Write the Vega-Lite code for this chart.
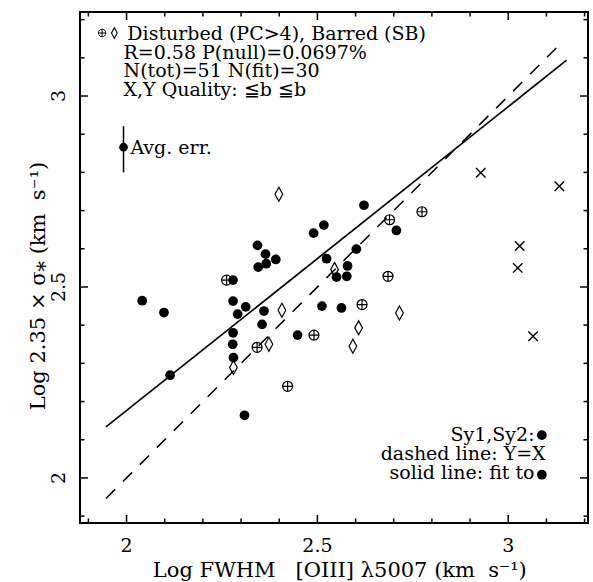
{
  "$schema": "https://vega.github.io/schema/vega-lite/v6.json",
  "width": 508,
  "height": 511,
  "autosize": {"type": "none"},
  "padding": {"left": 80, "top": 12, "right": 5, "bottom": 59},
  "background": "white",
  "config": {
    "view": {"stroke": "black", "strokeWidth": 2},
    "font": "DejaVu Serif",
    "text": {"font": "DejaVu Serif", "fontSize": 19, "color": "black"}
  },
  "datasets": {
    "sy": [
      {"x": 2.041, "y": 2.464}, {"x": 2.098, "y": 2.433}, {"x": 2.114, "y": 2.269}, {"x": 2.279, "y": 2.518},
      {"x": 2.279, "y": 2.463}, {"x": 2.312, "y": 2.448}, {"x": 2.291, "y": 2.429}, {"x": 2.360, "y": 2.437},
      {"x": 2.512, "y": 2.450}, {"x": 2.563, "y": 2.445}, {"x": 2.355, "y": 2.402}, {"x": 2.279, "y": 2.380},
      {"x": 2.448, "y": 2.374}, {"x": 2.278, "y": 2.350}, {"x": 2.280, "y": 2.315}, {"x": 2.309, "y": 2.164},
      {"x": 2.343, "y": 2.609}, {"x": 2.364, "y": 2.586}, {"x": 2.391, "y": 2.572}, {"x": 2.345, "y": 2.552},
      {"x": 2.366, "y": 2.561}, {"x": 2.490, "y": 2.641}, {"x": 2.517, "y": 2.662}, {"x": 2.622, "y": 2.714},
      {"x": 2.707, "y": 2.648}, {"x": 2.602, "y": 2.599}, {"x": 2.524, "y": 2.574}, {"x": 2.579, "y": 2.555},
      {"x": 2.550, "y": 2.526}, {"x": 2.577, "y": 2.528}
    ],
    "disturbed": [
      {"x": 2.262, "y": 2.518}, {"x": 2.689, "y": 2.676}, {"x": 2.774, "y": 2.697}, {"x": 2.685, "y": 2.528},
      {"x": 2.617, "y": 2.454}, {"x": 2.491, "y": 2.374}, {"x": 2.342, "y": 2.342}, {"x": 2.422, "y": 2.240}
    ],
    "barred": [
      {"x": 2.399, "y": 2.743}, {"x": 2.545, "y": 2.546}, {"x": 2.407, "y": 2.439}, {"x": 2.715, "y": 2.432},
      {"x": 2.608, "y": 2.393}, {"x": 2.373, "y": 2.350}, {"x": 2.593, "y": 2.345}, {"x": 2.280, "y": 2.289}
    ],
    "other": [
      {"x": 2.928, "y": 2.799}, {"x": 3.134, "y": 2.764}, {"x": 3.030, "y": 2.607}, {"x": 3.025, "y": 2.550}, {"x": 3.065, "y": 2.371}
    ],
    "fit": [{"x": 1.946, "y": 2.1335}, {"x": 3.153, "y": 3.094}],
    "yx": [{"x": 1.946, "y": 1.946}, {"x": 3.145, "y": 3.145}],
    "err": [{"x": 1.992, "y": 2.866, "lo": 2.80, "hi": 2.921}],
    "notesL": [
      {"x": 2.002, "y": 3.1458, "t": "Disturbed (PC>4), Barred (SB)"},
      {"x": 1.992, "y": 3.0974, "t": "R=0.58 P(null)=0.0697%"},
      {"x": 1.992, "y": 3.0490, "t": "N(tot)=51 N(fit)=30"},
      {"x": 1.992, "y": 3.0005, "t": "X,Y Quality: ≦b ≦b"},
      {"x": 2.010, "y": 2.848, "t": "Avg. err."}
    ],
    "notesR": [
      {"x": 3.069, "y": 2.0961, "t": "Sy1,Sy2:"},
      {"x": 3.098, "y": 2.0463, "t": "dashed line: Y=X"},
      {"x": 3.069, "y": 1.9966, "t": "solid line: fit to"}
    ],
    "keyDots": [{"x": 3.088, "y": 2.112}, {"x": 3.088, "y": 2.0084}],
    "keyPlus": [{"x": 1.936, "y": 3.165}],
    "keyDiamond": [{"x": 1.968, "y": 3.165}],
    "xlab": [{"x": 2, "y": 1.8055, "t": "2"}, {"x": 2.5, "y": 1.8055, "t": "2.5"}, {"x": 3, "y": 1.8055, "t": "3"}],
    "ylab": [{"x": 1.8385, "y": 2, "t": "2"}, {"x": 1.8385, "y": 2.5, "t": "2.5"}, {"x": 1.8385, "y": 3, "t": "3"}],
    "xtitle": [{"x": 2.0689, "y": 1.74, "t": "Log FWHM\u00a0\u00a0\u00a0[OIII] λ5007 (km\u00a0\u00a0s⁻¹)"}],
    "ytitle": [{"x": 1.7861, "y": 2.1772, "t": "Log 2.35 × σ⁎ (km\u00a0\u00a0s⁻¹)"}],
    "major": [{"v": 2}, {"v": 2.5}, {"v": 3}],
    "minor": [{"v": 1.9}, {"v": 2.1}, {"v": 2.2}, {"v": 2.3}, {"v": 2.4}, {"v": 2.6}, {"v": 2.7}, {"v": 2.8}, {"v": 2.9}, {"v": 3.1}, {"v": 3.2}]
  },
  "layer": [
    {
      "data": {"name": "sy"},
      "mark": {"type": "point", "shape": "circle", "filled": true, "color": "black", "size": 95, "opacity": 1},
      "encoding": {
        "x": {"field": "x", "type": "quantitative", "scale": {"domain": [1.878, 3.209], "nice": false, "zero": false}, "axis": null},
        "y": {"field": "y", "type": "quantitative", "scale": {"domain": [1.882, 3.22], "nice": false, "zero": false}, "axis": null}
      }
    },
    {
      "data": {"name": "major"},
      "mark": {"type": "tick", "orient": "vertical", "size": 16, "thickness": 1.5, "color": "black", "opacity": 1, "clip": true},
      "encoding": {
        "x": {"field": "v", "type": "quantitative", "scale": {"domain": [1.878, 3.209], "nice": false, "zero": false}, "axis": null},
        "y": {"datum": 1.882, "type": "quantitative", "scale": {"domain": [1.882, 3.22], "nice": false, "zero": false}, "axis": null}
      }
    },
    {
      "data": {"name": "major"},
      "mark": {"type": "tick", "orient": "vertical", "size": 16, "thickness": 1.5, "color": "black", "opacity": 1, "clip": true},
      "encoding": {
        "x": {"field": "v", "type": "quantitative", "scale": {"domain": [1.878, 3.209], "nice": false, "zero": false}, "axis": null},
        "y": {"datum": 3.22, "type": "quantitative", "scale": {"domain": [1.882, 3.22], "nice": false, "zero": false}, "axis": null}
      }
    },
    {
      "data": {"name": "minor"},
      "mark": {"type": "tick", "orient": "vertical", "size": 9, "thickness": 1.5, "color": "black", "opacity": 1, "clip": true},
      "encoding": {
        "x": {"field": "v", "type": "quantitative", "scale": {"domain": [1.878, 3.209], "nice": false, "zero": false}, "axis": null},
        "y": {"datum": 1.882, "type": "quantitative", "scale": {"domain": [1.882, 3.22], "nice": false, "zero": false}, "axis": null}
      }
    },
    {
      "data": {"name": "minor"},
      "mark": {"type": "tick", "orient": "vertical", "size": 9, "thickness": 1.5, "color": "black", "opacity": 1, "clip": true},
      "encoding": {
        "x": {"field": "v", "type": "quantitative", "scale": {"domain": [1.878, 3.209], "nice": false, "zero": false}, "axis": null},
        "y": {"datum": 3.22, "type": "quantitative", "scale": {"domain": [1.882, 3.22], "nice": false, "zero": false}, "axis": null}
      }
    },
    {
      "data": {"name": "major"},
      "mark": {"type": "tick", "orient": "horizontal", "size": 16, "thickness": 1.5, "color": "black", "opacity": 1, "clip": true},
      "encoding": {
        "y": {"field": "v", "type": "quantitative", "scale": {"domain": [1.882, 3.22], "nice": false, "zero": false}, "axis": null},
        "x": {"datum": 1.878, "type": "quantitative", "scale": {"domain": [1.878, 3.209], "nice": false, "zero": false}, "axis": null}
      }
    },
    {
      "data": {"name": "major"},
      "mark": {"type": "tick", "orient": "horizontal", "size": 16, "thickness": 1.5, "color": "black", "opacity": 1, "clip": true},
      "encoding": {
        "y": {"field": "v", "type": "quantitative", "scale": {"domain": [1.882, 3.22], "nice": false, "zero": false}, "axis": null},
        "x": {"datum": 3.209, "type": "quantitative", "scale": {"domain": [1.878, 3.209], "nice": false, "zero": false}, "axis": null}
      }
    },
    {
      "data": {"name": "minor"},
      "mark": {"type": "tick", "orient": "horizontal", "size": 9, "thickness": 1.5, "color": "black", "opacity": 1, "clip": true},
      "encoding": {
        "y": {"field": "v", "type": "quantitative", "scale": {"domain": [1.882, 3.22], "nice": false, "zero": false}, "axis": null},
        "x": {"datum": 1.878, "type": "quantitative", "scale": {"domain": [1.878, 3.209], "nice": false, "zero": false}, "axis": null}
      }
    },
    {
      "data": {"name": "minor"},
      "mark": {"type": "tick", "orient": "horizontal", "size": 9, "thickness": 1.5, "color": "black", "opacity": 1, "clip": true},
      "encoding": {
        "y": {"field": "v", "type": "quantitative", "scale": {"domain": [1.882, 3.22], "nice": false, "zero": false}, "axis": null},
        "x": {"datum": 3.209, "type": "quantitative", "scale": {"domain": [1.878, 3.209], "nice": false, "zero": false}, "axis": null}
      }
    },
    {
      "data": {"name": "other"},
      "mark": {"type": "point", "shape": "M-1,-1L1,1M-1,1L1,-1", "filled": false, "color": "black", "strokeWidth": 1.4, "size": 90, "opacity": 1},
      "encoding": {
        "x": {"field": "x", "type": "quantitative", "scale": {"domain": [1.878, 3.209], "nice": false, "zero": false}, "axis": null},
        "y": {"field": "y", "type": "quantitative", "scale": {"domain": [1.882, 3.22], "nice": false, "zero": false}, "axis": null}
      }
    },
    {
      "data": {"name": "disturbed"},
      "mark": {"type": "point", "shape": "M-1,0A1,1,0,1,1,1,0A1,1,0,1,1,-1,0ZM-1,0L1,0M0,-1L0,1", "filled": false, "color": "black", "strokeWidth": 1.2, "size": 100, "opacity": 1},
      "encoding": {
        "x": {"field": "x", "type": "quantitative", "scale": {"domain": [1.878, 3.209], "nice": false, "zero": false}, "axis": null},
        "y": {"field": "y", "type": "quantitative", "scale": {"domain": [1.882, 3.22], "nice": false, "zero": false}, "axis": null}
      }
    },
    {
      "data": {"name": "barred"},
      "mark": {"type": "point", "shape": "M0,-1L0.55,0L0,1L-0.55,0Z", "filled": false, "color": "black", "strokeWidth": 1.2, "size": 196, "opacity": 1},
      "encoding": {
        "x": {"field": "x", "type": "quantitative", "scale": {"domain": [1.878, 3.209], "nice": false, "zero": false}, "axis": null},
        "y": {"field": "y", "type": "quantitative", "scale": {"domain": [1.882, 3.22], "nice": false, "zero": false}, "axis": null}
      }
    },
    {
      "data": {"name": "fit"},
      "mark": {"type": "line", "color": "black", "strokeWidth": 1.7},
      "encoding": {
        "x": {"field": "x", "type": "quantitative", "scale": {"domain": [1.878, 3.209], "nice": false, "zero": false}, "axis": null},
        "y": {"field": "y", "type": "quantitative", "scale": {"domain": [1.882, 3.22], "nice": false, "zero": false}, "axis": null}
      }
    },
    {
      "data": {"name": "yx"},
      "mark": {"type": "line", "color": "black", "strokeWidth": 1.5, "strokeDash": [13, 11]},
      "encoding": {
        "x": {"field": "x", "type": "quantitative", "scale": {"domain": [1.878, 3.209], "nice": false, "zero": false}, "axis": null},
        "y": {"field": "y", "type": "quantitative", "scale": {"domain": [1.882, 3.22], "nice": false, "zero": false}, "axis": null}
      }
    },
    {
      "data": {"name": "err"},
      "mark": {"type": "rule", "color": "black", "strokeWidth": 1.5},
      "encoding": {
        "x": {"field": "x", "type": "quantitative", "scale": {"domain": [1.878, 3.209], "nice": false, "zero": false}, "axis": null},
        "y": {"field": "lo", "type": "quantitative", "scale": {"domain": [1.882, 3.22], "nice": false, "zero": false}, "axis": null},
        "y2": {"field": "hi"}
      }
    },
    {
      "data": {"name": "err"},
      "mark": {"type": "point", "shape": "circle", "filled": true, "color": "black", "size": 75, "opacity": 1},
      "encoding": {
        "x": {"field": "x", "type": "quantitative", "scale": {"domain": [1.878, 3.209], "nice": false, "zero": false}, "axis": null},
        "y": {"field": "y", "type": "quantitative", "scale": {"domain": [1.882, 3.22], "nice": false, "zero": false}, "axis": null}
      }
    },
    {
      "data": {"name": "keyDots"},
      "mark": {"type": "point", "shape": "circle", "filled": true, "color": "black", "size": 95, "opacity": 1},
      "encoding": {
        "x": {"field": "x", "type": "quantitative", "scale": {"domain": [1.878, 3.209], "nice": false, "zero": false}, "axis": null},
        "y": {"field": "y", "type": "quantitative", "scale": {"domain": [1.882, 3.22], "nice": false, "zero": false}, "axis": null}
      }
    },
    {
      "data": {"name": "keyPlus"},
      "mark": {"type": "point", "shape": "M-1,0A1,1,0,1,1,1,0A1,1,0,1,1,-1,0ZM-1,0L1,0M0,-1L0,1", "filled": false, "color": "black", "strokeWidth": 1, "size": 55, "opacity": 1},
      "encoding": {
        "x": {"field": "x", "type": "quantitative", "scale": {"domain": [1.878, 3.209], "nice": false, "zero": false}, "axis": null},
        "y": {"field": "y", "type": "quantitative", "scale": {"domain": [1.882, 3.22], "nice": false, "zero": false}, "axis": null}
      }
    },
    {
      "data": {"name": "keyDiamond"},
      "mark": {"type": "point", "shape": "M0,-1L0.55,0L0,1L-0.55,0Z", "filled": false, "color": "black", "strokeWidth": 1.1, "size": 110, "opacity": 1},
      "encoding": {
        "x": {"field": "x", "type": "quantitative", "scale": {"domain": [1.878, 3.209], "nice": false, "zero": false}, "axis": null},
        "y": {"field": "y", "type": "quantitative", "scale": {"domain": [1.882, 3.22], "nice": false, "zero": false}, "axis": null}
      }
    },
    {
      "data": {"name": "notesL"},
      "mark": {"type": "text", "align": "left", "baseline": "alphabetic", "fontSize": 19, "font": "DejaVu Serif", "color": "black"},
      "encoding": {
        "x": {"field": "x", "type": "quantitative", "scale": {"domain": [1.878, 3.209], "nice": false, "zero": false}, "axis": null},
        "y": {"field": "y", "type": "quantitative", "scale": {"domain": [1.882, 3.22], "nice": false, "zero": false}, "axis": null},
        "text": {"field": "t"}
      }
    },
    {
      "data": {"name": "notesR"},
      "mark": {"type": "text", "align": "right", "baseline": "alphabetic", "fontSize": 19, "font": "DejaVu Serif", "color": "black"},
      "encoding": {
        "x": {"field": "x", "type": "quantitative", "scale": {"domain": [1.878, 3.209], "nice": false, "zero": false}, "axis": null},
        "y": {"field": "y", "type": "quantitative", "scale": {"domain": [1.882, 3.22], "nice": false, "zero": false}, "axis": null},
        "text": {"field": "t"}
      }
    },
    {
      "data": {"name": "xlab"},
      "mark": {"type": "text", "align": "center", "baseline": "alphabetic", "fontSize": 19, "font": "DejaVu Serif", "color": "black", "clip": false},
      "encoding": {
        "x": {"field": "x", "type": "quantitative", "scale": {"domain": [1.878, 3.209], "nice": false, "zero": false}, "axis": null},
        "y": {"field": "y", "type": "quantitative", "scale": {"domain": [1.882, 3.22], "nice": false, "zero": false}, "axis": null},
        "text": {"field": "t"}
      }
    },
    {
      "data": {"name": "ylab"},
      "mark": {"type": "text", "align": "center", "baseline": "alphabetic", "angle": 270, "fontSize": 19, "font": "DejaVu Serif", "color": "black", "clip": false},
      "encoding": {
        "x": {"field": "x", "type": "quantitative", "scale": {"domain": [1.878, 3.209], "nice": false, "zero": false}, "axis": null},
        "y": {"field": "y", "type": "quantitative", "scale": {"domain": [1.882, 3.22], "nice": false, "zero": false}, "axis": null},
        "text": {"field": "t"}
      }
    },
    {
      "data": {"name": "xtitle"},
      "mark": {"type": "text", "align": "left", "baseline": "alphabetic", "fontSize": 21, "font": "DejaVu Serif", "color": "black", "clip": false},
      "encoding": {
        "x": {"field": "x", "type": "quantitative", "scale": {"domain": [1.878, 3.209], "nice": false, "zero": false}, "axis": null},
        "y": {"field": "y", "type": "quantitative", "scale": {"domain": [1.882, 3.22], "nice": false, "zero": false}, "axis": null},
        "text": {"field": "t"}
      }
    },
    {
      "data": {"name": "ytitle"},
      "mark": {"type": "text", "align": "left", "baseline": "alphabetic", "angle": 270, "fontSize": 21, "font": "DejaVu Serif", "color": "black", "clip": false},
      "encoding": {
        "x": {"field": "x", "type": "quantitative", "scale": {"domain": [1.878, 3.209], "nice": false, "zero": false}, "axis": null},
        "y": {"field": "y", "type": "quantitative", "scale": {"domain": [1.882, 3.22], "nice": false, "zero": false}, "axis": null},
        "text": {"field": "t"}
      }
    }
  ]
}
